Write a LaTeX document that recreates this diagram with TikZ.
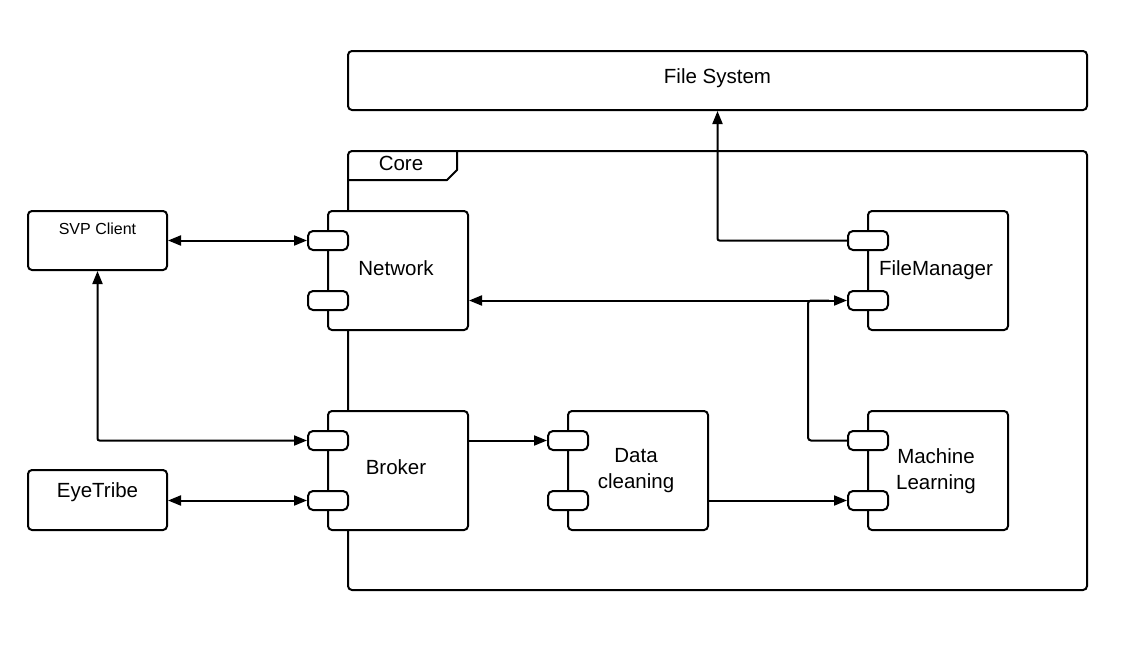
\documentclass[tikz,border=0pt]{standalone}
\usepackage{fontspec}
\setmainfont{Liberation Sans}
\usetikzlibrary{arrows.meta}
\begin{document}
\begin{tikzpicture}[x=1pt,y=-1pt,
  every node/.style={font=\fontsize{20.5}{26}\selectfont},
  ln/.style={line width=2pt},
  tip/.style={-{Triangle[length=13pt,width=10pt]}},
  dtip/.style={{Triangle[length=13pt,width=10pt]}-{Triangle[length=13pt,width=10pt]}},
  box/.style={draw,fill=white,line width=2pt,rounded corners=4pt,inner sep=0pt},
  comp/.style={box,minimum width=140pt,minimum height=119pt,align=center},
  port/.style={box,rounded corners=5pt,minimum width=40pt,minimum height=19pt}]
\useasboundingbox (0,0) rectangle (1142,645);
% File system
\node[box,minimum width=739pt,minimum height=59pt] (fs) at (717.5,80.5) {};
\node[anchor=base] (fslbl) at (717.5,83) {File System};
% Core frame
\node[box,minimum width=739pt,minimum height=439pt] (core) at (717.5,370.5) {};
\draw[ln,line join=round] (core.north west) ++(0,30) -- ++(100,0) coordinate (tabc) -- ++(10,-10) -- ++(0,-20);
\node (corelbl) at (401,163) {Core};
% external boxes
\node[box,minimum width=139pt,minimum height=59pt] (svp) at (97.5,240.5) {};
\node[font=\fontsize{16}{19}\selectfont,anchor=base] (svplbl) at (97.5,234) {SVP Client};
\node[box,minimum width=139pt,minimum height=60pt] (eye) at (97.5,500) {};
\node[anchor=base] (eyelbl) at (97.5,497) {EyeTribe};
% components
\node[comp] (net) at (398,270.5) {};
\node[anchor=base] (netlbl) at (396,275.5) {Network};
\node[comp] (brk) at (398,470.5) {};
\node[anchor=base] (brklbl) at (396,474.5) {Broker};
\node[comp] (dc) at (638,470.5) {};
\node[align=center] (dclbl) at (636,471) {Data\\cleaning};
\node[comp] (fm) at (938,270.5) {};
\node[anchor=base] (fmlbl) at (936,275.5) {FileManager};
\node[comp] (ml) at (938,470.5) {};
\node[align=center] (mllbl) at (936,471) {Machine\\Learning};
% ports
\foreach \c/\x/\y in {net/328/240.5, brk/328/440.5, dc/568/440.5, fm/868/240.5, ml/868/440.5}{
  \node[port] (\c p1) at (\x,\y) {};
  \node[port] (\c p2) at (\x,{\y+60}) {};
}
% connectors
\draw[ln,dtip] (svp.east |- netp1) -- (netp1.west);
\draw[ln,dtip,rounded corners=2pt] (svp.south) -- (svp.south |- brkp1) -- (brkp1.west);
\draw[ln,dtip] (eye.east |- brkp2) -- (brkp2.west);
\draw[ln,dtip] (net.east |- fmp2) -- (fmp2.west);
\draw[ln,tip,rounded corners=2pt] (fmp1.west) -- (fmp1.west -| fs) -- (fs.south);
\draw[ln,tip] (brk.east |- dcp1) -- (dcp1.west);
\draw[ln,tip] (dc.east |- mlp2) -- (mlp2.west);
\coordinate (mlbend) at (808,440.5);
\draw[ln,rounded corners=3pt] (mlp1.west) -- (mlbend) -- (mlbend |- fmp2) -- ([xshift=-18pt]fmp2.west);
\end{tikzpicture}
\end{document}
